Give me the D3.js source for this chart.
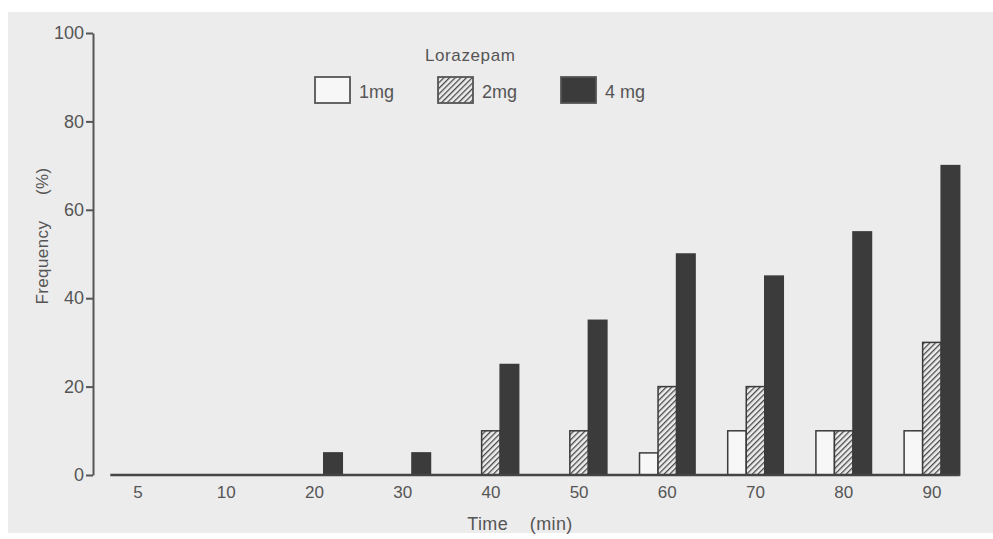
<!DOCTYPE html>
<html>
<head>
<meta charset="utf-8">
<script src="https://cdn.jsdelivr.net/npm/d3@7"></script>
<style>
  body { margin: 0; background: #fff; }
  text { font-family: "Liberation Sans", Arial, sans-serif; fill: #555; white-space: pre; }
</style>
</head>
<body>
<div id="chart"></div>
<script>
// data
const times = ["5", "10", "20", "30", "40", "50", "60", "70", "80", "90"];
const doses = ["1mg", "2mg", "4mg"];
const doseLabels = ["1mg", "2mg", "4 mg"];
const dose1 = [0, 0, 0, 0, 0, 0, 5, 10, 10, 10];
const dose2 = [0, 0, 0, 0, 10, 10, 20, 20, 10, 30];
const dose4 = [0, 0, 5, 5, 25, 35, 50, 45, 55, 70];
const yTicks = [0, 20, 40, 60, 80, 100];

const width = 993, height = 539;
const series = [dose1, dose2, dose4];

const svg = d3.select("#chart").append("svg")
  .attr("width", width)
  .attr("height", height);

// hatch pattern for the 2 mg bars
const defs = svg.append("defs");
const pat = defs.append("pattern")
  .attr("id", "hatch")
  .attr("patternUnits", "userSpaceOnUse")
  .attr("width", 4)
  .attr("height", 4)
  .attr("patternTransform", "rotate(45)");
pat.append("rect").attr("width", 4).attr("height", 4).attr("fill", "#ededed");
pat.append("line")
  .attr("x1", 0).attr("y1", 0).attr("x2", 0).attr("y2", 4)
  .attr("stroke", "#4a4a4a").attr("stroke-width", 2.6);

const fills = ["#f7f7f7", "url(#hatch)", "#3b3b3b"];

// paper background
svg.append("rect")
  .attr("x", 8).attr("y", 12)
  .attr("width", width - 8).attr("height", 521)
  .attr("fill", "#ececec");

const x = d3.scaleBand()
  .domain(times)
  .range([94, 976])
  .paddingInner(0.37)
  .paddingOuter(0.185);

const xs = d3.scaleBand()
  .domain(doses)
  .range([0, x.bandwidth()]);

const y = d3.scaleLinear()
  .domain([0, 100])
  .range([475, 33]);

// Y axis
const yAxis = svg.append("g")
  .attr("transform", "translate(93,0)")
  .call(d3.axisLeft(y).tickValues(yTicks).tickSize(7).tickPadding(2).tickSizeOuter(0));
yAxis.select(".domain").attr("stroke", "#555").attr("stroke-width", 2);
yAxis.selectAll(".tick line").attr("stroke", "#555").attr("stroke-width", 2);
yAxis.selectAll(".tick text")
  .attr("fill", "#555")
  .style("font-size", "18px")
  .style("font-family", "Liberation Sans, Arial, sans-serif");

// X axis (labels only, baseline drawn separately)
const xAxis = svg.append("g")
  .attr("transform", "translate(0,475)")
  .call(d3.axisBottom(x).tickSize(0).tickPadding(11));
xAxis.select(".domain").remove();
xAxis.selectAll(".tick text")
  .attr("fill", "#555")
  .style("font-size", "17px")
  .style("font-family", "Liberation Sans, Arial, sans-serif");

// bars
const groups = svg.selectAll(".grp")
  .data(times)
  .enter()
  .append("g")
  .attr("class", "grp")
  .attr("transform", d => "translate(" + x(d) + ",0)");

groups.selectAll("rect")
  .data((t, i) => doses.map((d, k) => ({ dose: d, k: k, value: series[k][i] })).filter(d => d.value > 0))
  .enter()
  .append("rect")
  .attr("x", d => xs(d.dose))
  .attr("y", d => y(d.value))
  .attr("width", xs.bandwidth())
  .attr("height", d => y(0) - y(d.value))
  .attr("fill", d => fills[d.k])
  .attr("stroke", "#3b3b3b")
  .attr("stroke-width", 1.5);

// baseline
svg.append("line")
  .attr("x1", x(times[0]))
  .attr("x2", x(times[times.length - 1]) + x.bandwidth())
  .attr("y1", y(0))
  .attr("y2", y(0))
  .attr("stroke", "#444")
  .attr("stroke-width", 2.5);

// legend
svg.append("text")
  .attr("x", 425)
  .attr("y", 61)
  .style("font-size", "17px")
  .style("letter-spacing", "0.6px")
  .text("Lorazepam");

const legend = svg.selectAll(".leg")
  .data(doses)
  .enter()
  .append("g")
  .attr("class", "leg")
  .attr("transform", (d, i) => "translate(" + (315 + i * 123) + ",77)");

legend.append("rect")
  .attr("width", 35)
  .attr("height", 26)
  .attr("fill", (d, i) => fills[i])
  .attr("stroke", "#555")
  .attr("stroke-width", 1.8);

legend.append("text")
  .attr("x", 44)
  .attr("y", 21)
  .style("font-size", "18px")
  .text((d, i) => doseLabels[i]);

// axis titles
svg.append("text")
  .attr("transform", "translate(48,236) rotate(-90)")
  .attr("text-anchor", "middle")
  .style("font-size", "17px")
  .style("letter-spacing", "0.4px")
  .text("Frequency     (%)");

svg.append("text")
  .attr("x", 520)
  .attr("y", 530)
  .attr("text-anchor", "middle")
  .style("font-size", "18px")
  .style("letter-spacing", "0.4px")
  .text("Time    (min)");
</script>
</body>
</html>
